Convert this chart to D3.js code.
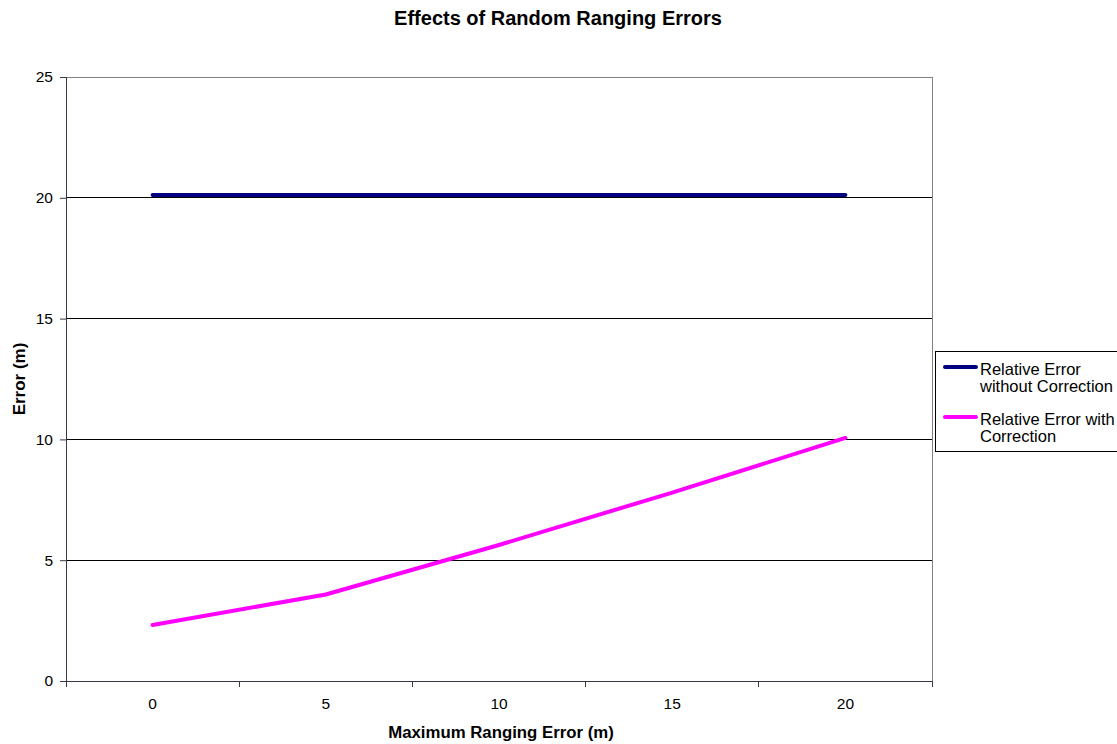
<!DOCTYPE html>
<html><head><meta charset="utf-8">
<script src="https://cdn.jsdelivr.net/npm/d3@7"></script>
<style>body{margin:0;background:#fff;} svg{display:block;font-family:"Liberation Sans",Arial,sans-serif;}</style>
</head><body>
<svg id="c" width="1117" height="744"></svg>
<script>
const categories = ["0","5","10","15","20"];
const withoutCorrection = [20.12, 20.12, 20.12, 20.12, 20.12];
const withCorrection = [2.32, 3.58, 5.63, 7.8, 10.06];
const yTicks = [0,5,10,15,20,25];
const seriesNames = ["Relative Error without Correction","Relative Error with Correction"];
const seriesColors = ["#000080","#ff00ff"];

const svg = d3.select("#c");
const L=66, R=932, T=77, B=681;
const x = d3.scaleBand().domain(categories).range([L,R]);
const y = d3.scaleLinear().domain([0,25]).range([B,T]);
const FONT = "Liberation Sans, Arial, sans-serif";

// gridlines
svg.append("g").selectAll("line").data(yTicks.filter(d=>d>0&&d<25)).join("line")
  .attr("x1",L).attr("x2",R).attr("y1",d=>y(d)).attr("y2",d=>y(d))
  .attr("stroke","#000").attr("stroke-width",1).attr("shape-rendering","crispEdges");
// top & right border
svg.append("line").attr("x1",L).attr("x2",R).attr("y1",T).attr("y2",T).attr("stroke","#808080").attr("shape-rendering","crispEdges");
svg.append("line").attr("x1",R).attr("x2",R).attr("y1",T).attr("y2",B).attr("stroke","#808080").attr("shape-rendering","crispEdges");

// axes
const yAxis = d3.axisLeft(y).tickValues(yTicks).tickSize(6).tickPadding(7);
const gy = svg.append("g").attr("transform",`translate(${L},0)`).call(yAxis);
gy.select(".domain").attr("stroke","#3a3548");
gy.selectAll(".tick line").attr("stroke","#3a3548");
gy.selectAll("text").attr("font-size",15.5).attr("fill","#000").attr("font-family",FONT);

const xAxis = d3.axisBottom(x).tickSize(0).tickPadding(17);
const gx = svg.append("g").attr("transform",`translate(0,${B})`).call(xAxis);
gx.select(".domain").attr("stroke","#3a3548");
gx.selectAll("text").attr("font-size",15.5).attr("fill","#000").attr("font-family",FONT);
// x category boundary ticks
const bounds = categories.map(c=>x(c)).concat([R]);
svg.append("g").selectAll("line").data(bounds).join("line")
  .attr("x1",d=>d).attr("x2",d=>d).attr("y1",B).attr("y2",B+6)
  .attr("stroke","#3a3548").attr("shape-rendering","crispEdges");

// lines
const line = d3.line().x((d,i)=>x(categories[i])+x.bandwidth()/2).y(d=>y(d));
[withoutCorrection, withCorrection].forEach((s,i)=>{
  svg.append("path").datum(s).attr("d",line).attr("fill","none")
    .attr("stroke",seriesColors[i]).attr("stroke-width",4).attr("stroke-linecap","round").attr("stroke-linejoin","round");
});

// title & axis labels
svg.append("text").attr("x",558).attr("y",25).attr("text-anchor","middle")
  .attr("font-size",20).attr("font-weight","bold").text("Effects of Random Ranging Errors");
svg.append("text").attr("x",501).attr("y",738).attr("text-anchor","middle")
  .attr("font-size",16.8).attr("font-weight","bold").text("Maximum Ranging Error (m)");
svg.append("text").attr("transform","translate(25,379) rotate(-90)").attr("text-anchor","middle")
  .attr("font-size",17).attr("font-weight","bold").text("Error (m)");

// legend
const lg = svg.append("g");
lg.append("rect").attr("x",935.5).attr("y",351.5).attr("width",190).attr("height",100)
  .attr("fill","#fff").attr("stroke","#000").attr("stroke-width",1);
const legendLines = [["Relative Error","without Correction"],["Relative Error with","Correction"]];
legendLines.forEach((ls,i)=>{
  const y0 = 367 + i*50;
  lg.append("line").attr("x1",945).attr("x2",976).attr("y1",y0).attr("y2",y0)
    .attr("stroke",seriesColors[i]).attr("stroke-width",4).attr("stroke-linecap","round");
  ls.forEach((t,j)=>{
    lg.append("text").attr("x",980).attr("y",y0+8+j*17).attr("font-size",16.5).text(t);
  });
});
</script>
</body></html>
